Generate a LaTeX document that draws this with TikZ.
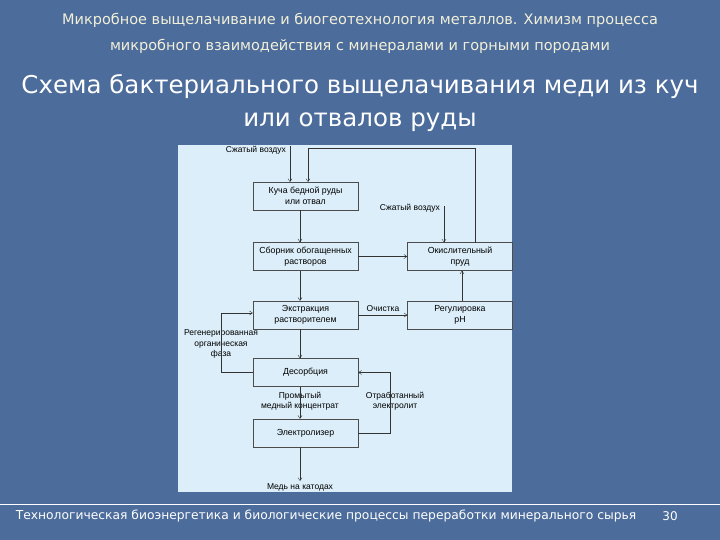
\documentclass[tikz,border=0pt]{standalone}
\usepackage{fontspec}
\setmainfont{Liberation Sans}
\newfontfamily\dv{DejaVu Sans}
\usetikzlibrary{arrows.meta}
\definecolor{bg}{HTML}{4C6C9C}
\definecolor{panel}{HTML}{DCEEF9}
\definecolor{ttl}{HTML}{F2F0D8}
\begin{document}
\begin{tikzpicture}[x=1pt,y=-1pt,
  box/.style={draw=black!70,fill=panel,minimum width=105pt,minimum height=28pt,inner sep=1pt,align=center,font=\fontsize{8.8}{10.5}\selectfont},
  lbl/.style={font=\fontsize{8.5}{10.5}\selectfont,align=center,inner sep=1pt},
  ar/.style={draw=black!80,-{Straight Barb[length=3pt,width=4pt]}}]
\useasboundingbox (0,0) rectangle (720,540);
\fill[bg] (0,0) rectangle (720,540);
\node[text=ttl,align=center,font=\dv\fontsize{14.5}{26}\selectfont] (t1) at (360,33) {Микробное выщелачивание и биогеотехнология металлов. Химизм процесса\\микробного взаимодействия с минералами и горными породами};
\node[text=white,align=center,font=\dv\fontsize{24.5}{33}\selectfont] (t2) at (360,103) {Схема бактериального выщелачивания меди из куч\\или отвалов руды};
\draw[white,line width=0.8pt] (0,504) -- (720,504);
\node[text=white,font=\dv\fontsize{12.3}{14}\selectfont] (ft) at (326,516) {Технологическая биоэнергетика и биологические процессы переработки минерального сырья};
\node[text=white,font=\dv\fontsize{12}{14}\selectfont] (pg) at (670,516) {30};
\fill[panel] (178,145) rectangle (512,492);
\node[box] (b1) at (305.5,196) {Куча бедной руды\\или отвал};
\node[box] (b2) at (305.5,256.5) {Сборник обогащенных\\растворов};
\node[box] (ox) at (460,256.5) {Окислительный\\пруд};
\node[box] (b3) at (305.5,315) {Экстракция\\растворителем};
\node[box] (ph) at (460,315) {Регулировка\\pH};
\node[box] (de) at (305.5,372.5) {Десорбция};
\node[box] (el) at (305.5,433) {Электролизер};
\node[lbl,anchor=east] (air1) at (287,150) {Сжатый воздух};
\node[lbl,anchor=east] (air2) at (441,208) {Сжатый воздух};
\node[lbl] (cu) at (300,487) {Медь на катодах};
\coordinate (cuT) at (300,481);
\node[lbl] (och) at (383,309) {Очистка};
\node[lbl] (reg) at (221,344) {Регенерированная\\органическая\\фаза};
\node[lbl] (otr) at (395,401) {Отработанный\\электролит};
\node[lbl] (pro) at (300,401) {Промытый\\медный концентрат};
\draw[ar] (290,146) -- (290,182);
\draw[ar] (475,242.5) -- (475,148) -- (308,148) -- (308,182);
\draw[ar] (444,206) -- (444,242.5);
\draw[ar] (b1.south -| 300,0) -- (b2.north -| 300,0);
\draw[ar] (b2.east) -- (ox.west);
\draw[ar] (b2.south -| 300,0) -- (b3.north -| 300,0);
\draw[ar] (b3.east) -- (ph.west);
\draw[ar] (ph.north -| 462,0) -- (ox.south -| 462,0);
\draw[ar] (b3.south -| 300,0) -- (de.north -| 300,0);
\draw[ar] (de.west) -- (221,372.5) -- (221,313) -- (b3.west |- 0,313);
\draw[ar] (de.south -| 300,0) -- (el.north -| 300,0);
\draw[ar] (el.east) -- (390,433) -- (390,372.5) -- (de.east);
\draw[ar] (el.south -| 300,0) -- (cuT);
\end{tikzpicture}
\end{document}
